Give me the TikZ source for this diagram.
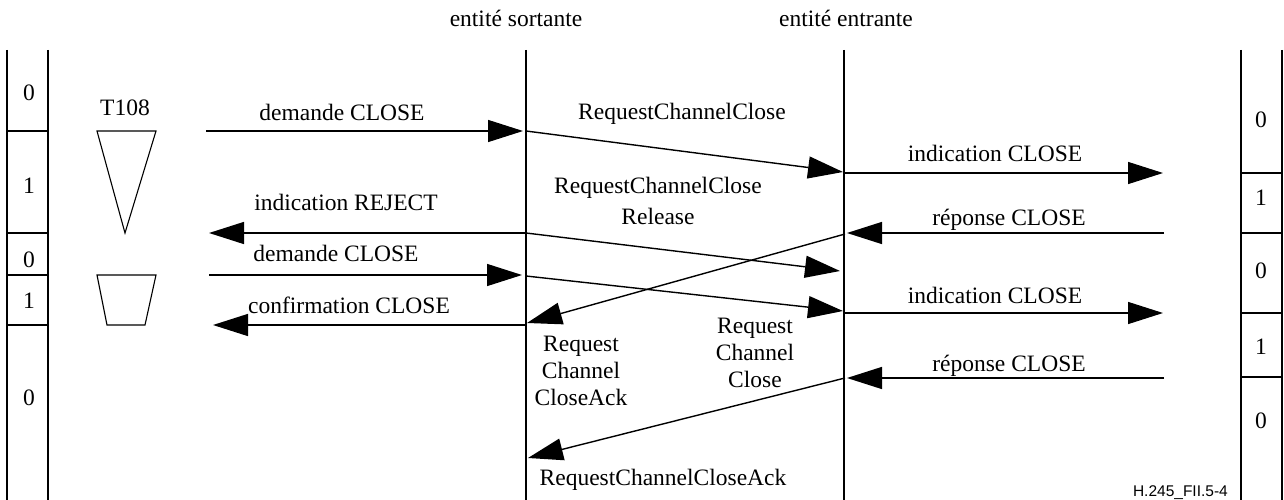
\documentclass[tikz,border=0pt]{standalone}
\usepackage{fontspec}
\setmainfont{Liberation Serif}
\newfontfamily\labsans{Liberation Sans}
\usetikzlibrary{arrows.meta}
\begin{document}
\begin{tikzpicture}[x=1pt,y=-1pt,
  ln/.style={line width=1.1pt},
  msg/.style={line width=1.4pt,-{Triangle[length=35pt,width=22pt]}},
  lab/.style={font=\fontsize{23.5}{27}\selectfont,inner sep=0pt,anchor=base},
  mlab/.style={font=\fontsize{23.5}{27}\selectfont,inner sep=0pt,align=center,anchor=base}]
\useasboundingbox (0,0) rectangle (1284,500);
% lifelines
\coordinate (sT) at (526,50); \coordinate (sB) at (526,500);
\coordinate (eT) at (844,50); \coordinate (eB) at (844,500);
\draw[ln] (sT) -- (sB);
\draw[ln] (eT) -- (eB);
\node[lab] (hs) at (516,27) {entité sortante};
\node[lab] (he) at (846,27) {entité entrante};
% left column
\coordinate (l1) at (7,50); \coordinate (l2) at (7,500);
\coordinate (l3) at (48,50); \coordinate (l4) at (48,500);
\draw[ln] (l1) -- (l2); \draw[ln] (l3) -- (l4);
\foreach \y in {131,233,275,325} \draw[ln] (7,\y) -- (48,\y);
\node[lab] (lc1) at (29,101) {0};
\node[lab] (lc2) at (29,193) {1};
\node[lab] (lc3) at (29,267) {0};
\node[lab] (lc4) at (29,308) {1};
\node[lab] (lc5) at (29,405) {0};
% right column
\coordinate (r1) at (1241,50); \coordinate (r2) at (1241,500);
\coordinate (r3) at (1282,50); \coordinate (r4) at (1282,500);
\draw[ln] (r1) -- (r2); \draw[ln] (r3) -- (r4);
\foreach \y in {173,233,313,377} \draw[ln] (1241,\y) -- (1282,\y);
\node[lab] (rc1) at (1261,128) {0};
\node[lab] (rc2) at (1261,205) {1};
\node[lab] (rc3) at (1261,278) {0};
\node[lab] (rc4) at (1261,354) {1};
\node[lab] (rc5) at (1261,428) {0};
% timer
\node[lab] (t108) at (125,116) {T108};
\draw[ln] (97,131) -- (156,131) -- (125,233) -- cycle;
\draw[ln] (97,275) -- (156,275) -- (145,325) -- (107,325) -- cycle;
% message endpoints
\coordinate (a1s) at (206,131); \coordinate (a1e) at (523,131);
\coordinate (a2s) at (526,131); \coordinate (a2e) at (843,172);
\coordinate (a3s) at (845,173); \coordinate (a3e) at (1163,173);
\coordinate (a4s) at (1164,233); \coordinate (a4e) at (847,233);
\coordinate (a5s) at (526,233); \coordinate (a5e) at (209,233);
\coordinate (a6s) at (526,233); \coordinate (a6e) at (840,271);
\coordinate (a7s) at (845,234); \coordinate (a7e) at (527,323);
\coordinate (a8s) at (209,275); \coordinate (a8e) at (522,275);
\coordinate (a9s) at (526,276); \coordinate (a9e) at (843,311);
\coordinate (a10s) at (845,313); \coordinate (a10e) at (1163,313);
\coordinate (a11s) at (526,325); \coordinate (a11e) at (213,325);
\coordinate (a12s) at (1164,378); \coordinate (a12e) at (847,378);
\coordinate (a13s) at (845,378); \coordinate (a13e) at (528,458);
\draw[msg] (a1s) -- (a1e);
\draw[msg] (a2s) -- (a2e);
\draw[msg] (a3s) -- (a3e);
\draw[msg] (a4s) -- (a4e);
\draw[msg] (a5s) -- (a5e);
\draw[msg] (a6s) -- (a6e);
\draw[msg] (a7s) -- (a7e);
\draw[msg] (a8s) -- (a8e);
\draw[msg] (a9s) -- (a9e);
\draw[msg] (a10s) -- (a10e);
\draw[msg] (a11s) -- (a11e);
\draw[msg] (a12s) -- (a12e);
\draw[msg] (a13s) -- (a13e);
% labels
\node[lab] (m1) at (342,121) {demande CLOSE};
\node[lab] (m2) at (682,120) {RequestChannelClose};
\node[lab] (m3) at (995,161) {indication CLOSE};
\node[lab] (m4) at (1009,225) {réponse CLOSE};
\node[lab] (m5) at (346,210) {indication REJECT};
\node[mlab,font=\fontsize{23.5}{31}\selectfont] (m6) at (658,224) {RequestChannelClose\\Release};
\node[lab] (m8) at (336,261) {demande CLOSE};
\node[lab] (m10) at (995,303) {indication CLOSE};
\node[lab] (m11) at (349,313) {confirmation CLOSE};
\node[lab] (m12) at (1009,371) {réponse CLOSE};
\node[mlab] (m7) at (581,405) {Request\\Channel\\CloseAck};
\node[mlab] (m9) at (755,387) {Request\\Channel\\Close};
\node[lab] (m13) at (663,485) {RequestChannelCloseAck};
\node[font=\labsans\fontsize{15.5}{18}\selectfont,inner sep=0pt,anchor=base east] (ref) at (1228,496) {H.245\_FII.5-4};
\end{tikzpicture}
\end{document}
